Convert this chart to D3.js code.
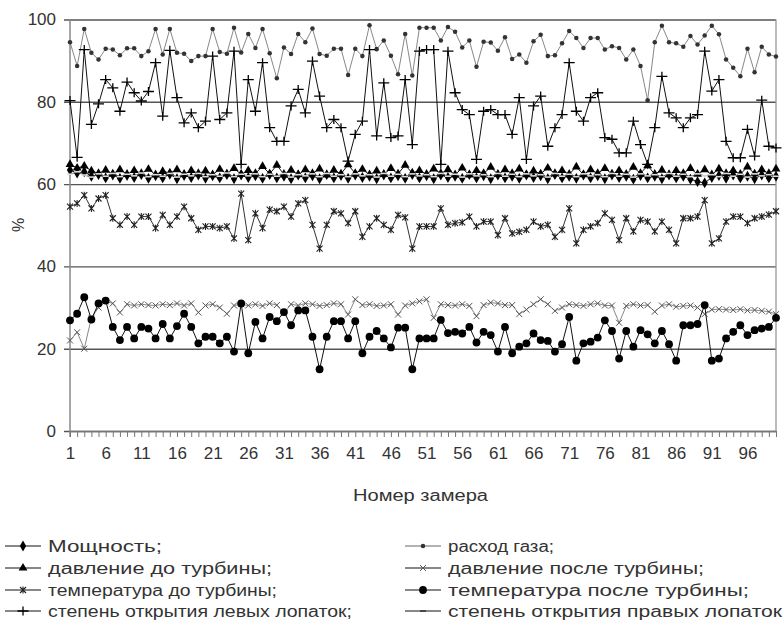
<!DOCTYPE html>
<html lang="ru">
<head>
<meta charset="UTF-8">
<title>Параметры турбины по номеру замера</title>
<script src="https://d3js.org/d3.v7.min.js"></script>
<style>
  body { margin: 0; background: #fff; }
  svg text { font-family: Arial, "Liberation Sans", sans-serif; fill: #333; }
</style>
</head>
<body>
<div id="chart"></div>
<script>
// measurement numbers 1..100
const measures = d3.range(1, 101);
const xTickLabels = d3.range(1, 101, 5);
const yTicks = [0, 20, 40, 60, 80, 100];

// values, %
const gasFlow = [94.5, 88.7, 97.7, 91.9, 90.3, 92.9, 92.7, 91.3, 93, 93,
  91.1, 92.3, 97.7, 91.5, 97.7, 91.9, 91.7, 89.9, 91.1, 91.1,
  97.7, 92.1, 91.7, 98, 92, 96.5, 93.1, 97.7, 91.8, 85.7,
  93.2, 91.6, 96.5, 94.5, 97.8, 91.6, 91.2, 92.9, 92.9, 86.5,
  92.9, 91.1, 98.6, 92.8, 94.9, 91.2, 86.7, 96.5, 86.4, 98,
  98, 98, 94.9, 98.2, 97, 93.2, 94.9, 88.5, 94.6, 94.4,
  92.4, 95.7, 90.4, 91.5, 89.5, 94.7, 96.3, 91.1, 91.3, 94.2,
  97.2, 95.5, 93.1, 95.5, 95.5, 92.7, 93.5, 93.1, 90.3, 92.7,
  88.7, 80.4, 94.5, 98.5, 94.5, 94.2, 93.4, 96, 93.9, 96.1,
  98.5, 96.4, 90.3, 88.3, 86.2, 92.9, 87.2, 93.4, 91.5, 91];

const leftBlades = [80.3, 66.5, 92.7, 74.5, 79.5, 85.4, 83.4, 77.7, 84.8, 82.2,
  80.2, 82.5, 89.5, 76.5, 92.5, 81, 74.9, 77.3, 73.7, 75.3,
  91.1, 75.7, 77.3, 92.3, 64.8, 85.4, 77.7, 89.5, 73.7, 70.4,
  70.4, 79, 83, 77.3, 89.9, 81.4, 73.7, 75.7, 73.7, 65.6,
  72.1, 75.3, 92.7, 71.7, 84.6, 71.3, 71.7, 85.4, 69.6, 92.3,
  92.7, 92.7, 64.8, 92.3, 82.2, 78.1, 76.9, 66, 77.7, 78.1,
  76.9, 76.9, 72.1, 81, 66, 79, 81.4, 69.2, 73.7, 76.9,
  89.5, 77.7, 75.3, 81, 82.2, 71.3, 70.9, 67.6, 67.6, 75.3,
  69.6, 64.8, 73.7, 86.2, 77.3, 76.1, 73.7, 76.1, 76.9, 92.3,
  82.6, 85.4, 70.4, 66.4, 66.4, 73.3, 66.8, 80.4, 69.2, 68.8];

const pressureBefore = [64.8, 63.9, 64.4, 63.2, 62.6, 63.4, 62.5, 63.5, 62.4, 63.3,
  62.6, 63.6, 62.3, 63.1, 62.7, 63.5, 62.4, 63.3, 62.6, 63.2,
  62.3, 63.6, 62.5, 63.8, 62.4, 63.3, 62.6, 64.3, 62.5, 64.6,
  62.4, 63.4, 62.3, 63.5, 62.6, 63.7, 62.2, 63.4, 62.5, 64.7,
  62.6, 63.6, 62.3, 63.2, 62.4, 63.8, 62.5, 64.6, 62.7, 63.3,
  62.4, 63.7, 62.6, 63.5, 62.3, 63.9, 62.2, 63.3, 62.6, 64.1,
  62.4, 63.5, 62.6, 63.7, 62.3, 63.2, 62.5, 63.9, 62.6, 63.3,
  62.4, 64.2, 62.3, 63.5, 62.6, 63.8, 62.5, 63.3, 62.4, 64.1,
  62.6, 64.5, 62.4, 63.4, 62.3, 63.3, 62.6, 63.8, 62.4, 63.5,
  62.3, 63.7, 62.6, 63.3, 62.4, 64.2, 62.5, 63.5, 62.6, 63.7];

const power = [63.4, 62.7, 63, 61.9, 62.3, 61.5, 62.2, 61.4, 62.1, 61.6,
  62.3, 61.4, 62, 61.5, 62.4, 61.3, 62.1, 61.6, 62.2, 61.4,
  62, 61.5, 62.3, 61.3, 62.2, 61.6, 62, 61.4, 62.3, 61.5,
  61.9, 61.3, 62.2, 61.5, 62, 61.3, 62.3, 61.5, 62.1, 61.4,
  62.2, 61.6, 61.9, 61.3, 62.2, 61.5, 62, 61.4, 62.3, 61.5,
  62, 61.3, 62.2, 61.6, 61.9, 61.4, 62.3, 61.5, 62, 61.3,
  62.2, 61.5, 61.9, 61.4, 62.2, 61.6, 62, 61.3, 62.3, 61.5,
  61.9, 61.4, 62.2, 61.5, 62, 61.3, 62.2, 61.6, 61.9, 61.2,
  62.1, 61.5, 61.9, 61.3, 62.2, 61.5, 61.9, 61.2, 60.6, 60.3,
  61.6, 62.1, 61.4, 62.2, 61.5, 61.9, 61.3, 62.2, 61.5, 61.9];

const rightBlades = [62.4, 63, 62.2, 61.7, 62.5, 61.9, 62.6, 61.8, 62.4, 62,
  62.7, 61.8, 62.3, 61.9, 62.6, 61.7, 62.4, 62, 62.6, 61.8,
  62.3, 61.9, 62.7, 61.8, 62.4, 62, 62.5, 61.8, 62.4, 61.9,
  62.6, 61.7, 62.3, 62, 62.5, 61.8, 62.6, 61.9, 62.3, 61.8,
  62.5, 62, 62.3, 61.7, 62.6, 61.9, 62.4, 61.8, 62.5, 62,
  62.3, 61.8, 62.6, 61.9, 62.4, 61.7, 62.5, 62, 62.3, 61.8,
  62.6, 61.9, 62.4, 61.8, 62.5, 62, 62.3, 61.7, 62.6, 61.9,
  62.4, 61.8, 62.5, 62, 62.3, 61.8, 62.6, 61.9, 62.4, 61.7,
  62.5, 62, 62.3, 61.8, 62.6, 61.9, 62.4, 61.8, 62.5, 62,
  62.3, 61.8, 62.6, 61.9, 62.4, 61.7, 62.5, 62, 62.3, 61.9];

const tempBefore = [54.5, 55.3, 57.3, 54.1, 56.5, 57.3, 51.7, 50.1, 52.1, 50.1,
  52.1, 52.1, 49.3, 52.5, 50.1, 52.1, 54.5, 51.7, 48.9, 49.7,
  49.7, 49.3, 49.7, 46.8, 57.7, 46.4, 52.9, 49.3, 53.8, 53.4,
  54.5, 52.1, 55.3, 56.1, 50.1, 44.3, 50.1, 53.4, 52.9, 50.5,
  53.4, 47.2, 49.7, 51.7, 50.1, 48.9, 52.5, 51.9, 44.3, 49.7,
  49.7, 49.7, 54.1, 50.1, 50.5, 50.7, 52.1, 49.7, 50.9, 50.9,
  47.6, 51.7, 48, 48.4, 48.9, 50.9, 49.7, 50.1, 47.2, 48.9,
  54.1, 45.6, 48.9, 49.7, 50.5, 52.9, 51.3, 46.4, 51.7, 48.5,
  51.3, 50.9, 48.5, 50.9, 48.9, 45.6, 51.7, 51.7, 52.1, 56.1,
  45.6, 46.8, 50.9, 52.1, 52.1, 50.5, 51.7, 52.1, 52.6, 53.4];

const pressureAfter = [22, 24, 20, 27.5, 30, 31.5, 31, 28.8, 30.8, 30.5,
  30.8, 30.6, 30.5, 30.8, 30.6, 31, 30.5, 31, 28.8, 30.5,
  30.8, 30, 28.5, 30.5, 30.8, 30.5, 30.8, 30.4, 31, 30.6,
  28.6, 30.8, 30.5, 31, 30.8, 30.4, 30.6, 31, 30.8, 28.3,
  32, 30.6, 30.8, 30.4, 30.5, 30.8, 28.3, 30.5, 31, 31.5,
  32, 27.5, 30.8, 30.6, 30.5, 30.8, 30.4, 27.9, 30.6, 31.2,
  31, 30.6, 30.6, 28.4, 29.5, 30.8, 32, 30.8, 29.2, 30,
  30.8, 30.6, 30.4, 30.8, 31, 30.5, 30.5, 26.3, 30.4, 30.8,
  30.5, 30.6, 29, 30.5, 30.8, 30.2, 30.4, 30.5, 30, 28.4,
  29.5, 29.6, 29.5, 29.4, 29.6, 29.3, 29.4, 29.2, 29, 28.4];

const tempAfter = [26.9, 28.5, 32.5, 27.1, 31, 31.7, 25.3, 22.1, 25.3, 22.5,
  25.3, 24.9, 22.5, 26, 22.5, 25.5, 28.5, 25.3, 21.3, 22.9,
  22.9, 21.3, 22.9, 19.3, 31, 18.9, 26.5, 22.5, 27.7, 26.7,
  28.9, 25.7, 29.3, 29.3, 22.9, 15, 22.9, 26.7, 26.7, 22.5,
  26.7, 18.9, 22.9, 24.3, 22.5, 20.3, 25.1, 25.1, 15, 22.5,
  22.5, 22.5, 27, 23.8, 24.1, 23.7, 25.3, 21.5, 24.1, 23.3,
  19.3, 25.3, 18.9, 20.5, 21.3, 23.7, 22.1, 21.9, 19.3, 21.1,
  27.7, 17.1, 21.3, 21.7, 22.7, 26.9, 24.3, 17.6, 24.3, 20.5,
  24.5, 23.5, 21.3, 24.3, 21.1, 17.1, 25.7, 25.7, 26, 30.6,
  17.1, 17.6, 22.5, 24.1, 25.7, 23.3, 24.5, 24.9, 25.3, 27.5];

// series in legend order (left column then right column, row by row)
const seriesNames = ["Мощность;", "расход газа;", "давление до турбины;", "давление после турбины;",
  "температура до турбины;", "температура после турбины;",
  "степень открытия левых лопаток;", "степень открытия правых лопаток"];
const series = [
  {values: power, marker: "diamond", line: "#111", mark: "#000"},
  {values: gasFlow, marker: "dot", line: "#888", mark: "#333"},
  {values: pressureBefore, marker: "triangle", line: "#111", mark: "#000"},
  {values: pressureAfter, marker: "cross", line: "#888", mark: "#555"},
  {values: tempBefore, marker: "star", line: "#333", mark: "#222"},
  {values: tempAfter, marker: "circle", line: "#111", mark: "#000"},
  {values: leftBlades, marker: "plus", line: "#111", mark: "#000"},
  {values: rightBlades, marker: "dash", line: "#555", mark: "#ddd"}
].map((s, i) => ({...s, name: seriesNames[i]}));
// legend text widths as they appear in the original (its text is drawn wide)
const legendWidths = [114, 106, 224, 256, 229, 301, 304, 334];
// drawing order so the bunch near 62 and the lower lines overlap like the original
const drawOrder = [1, 6, 4, 3, 5, 0, 2, 7];

const W = 784, H = 624;
const plot = {left: 70, right: 776, top: 19.5, bottom: 431};

const svg = d3.select("#chart").append("svg")
  .attr("width", W).attr("height", H);

const x = d3.scalePoint().domain(measures).range([plot.left, plot.right]);
const y = d3.scaleLinear().domain([0, 100]).range([plot.bottom, plot.top]);

// gridlines (ticks outside on the left)
svg.append("g")
  .attr("transform", `translate(${plot.left},0)`)
  .call(d3.axisLeft(y).tickValues(yTicks).tickSize(-(plot.right - plot.left)).tickSizeOuter(0).tickPadding(14))
  .call(g => g.select(".domain").remove())
  .call(g => g.selectAll(".tick line")
    .attr("x1", -6)
    .attr("stroke", "#555").attr("stroke-width", 1.4))
  .call(g => g.selectAll(".tick text")
    .attr("font-size", 17).attr("fill", "#444"));

// right border
svg.append("line")
  .attr("x1", plot.right).attr("x2", plot.right)
  .attr("y1", plot.top).attr("y2", plot.bottom)
  .attr("stroke", "#999").attr("stroke-width", 1.3);

// y axis line
svg.append("line")
  .attr("x1", plot.left).attr("x2", plot.left)
  .attr("y1", plot.top).attr("y2", plot.bottom + 6)
  .attr("stroke", "#888").attr("stroke-width", 1.5);

// x axis
const xAxis = svg.append("g")
  .attr("transform", `translate(0,${plot.bottom})`)
  .call(d3.axisBottom(x).tickSize(6).tickSizeOuter(0).tickPadding(10)
    .tickFormat(d => xTickLabels.includes(d) ? d : ""));
xAxis.select(".domain").attr("stroke", "#777").attr("stroke-width", 1.3);
xAxis.selectAll(".tick line").attr("stroke", "#777");
xAxis.selectAll(".tick text").attr("font-size", 17).attr("fill", "#444");

// axis titles
svg.append("text")
  .attr("x", 353).attr("y", 501)
  .attr("font-size", 16)
  .attr("textLength", 135).attr("lengthAdjust", "spacingAndGlyphs")
  .text("Номер замера");

svg.append("text")
  .attr("transform", "translate(24,225) rotate(-90)")
  .attr("text-anchor", "middle").attr("font-size", 16)
  .text("%");

// marker drawing
const sym = {
  diamond: d3.symbol().type(d3.symbolDiamond).size(34),
  triangle: d3.symbol().type(d3.symbolTriangle).size(34),
  circle: d3.symbol().type(d3.symbolCircle).size(48),
  dot: d3.symbol().type(d3.symbolCircle).size(16)
};

function drawMarker(g, type, cx, cy, s) {
  if (sym[type]) {
    g.append("path")
      .attr("d", sym[type]())
      .attr("transform", `translate(${cx},${cy})`)
      .attr("fill", s.mark);
  } else if (type === "plus") {
    g.append("path")
      .attr("d", `M${cx - 5.5},${cy}H${cx + 5.5}M${cx},${cy - 4.5}V${cy + 4.5}`)
      .attr("stroke", s.mark).attr("stroke-width", 1.3).attr("fill", "none");
  } else if (type === "cross") {
    g.append("path")
      .attr("d", `M${cx - 3},${cy - 3}L${cx + 3},${cy + 3}M${cx - 3},${cy + 3}L${cx + 3},${cy - 3}`)
      .attr("stroke", s.mark).attr("stroke-width", 1).attr("fill", "none");
  } else if (type === "star") {
    g.append("path")
      .attr("d", `M${cx - 3},${cy - 3}L${cx + 3},${cy + 3}M${cx - 3},${cy + 3}L${cx + 3},${cy - 3}M${cx},${cy - 3.5}V${cy + 3.5}`)
      .attr("stroke", s.mark).attr("stroke-width", 1.1).attr("fill", "none");
  } else if (type === "dash") {
    g.append("path")
      .attr("d", `M${cx - 3},${cy}H${cx + 3}`)
      .attr("stroke", s.mark).attr("stroke-width", 1.5).attr("fill", "none");
  }
}

const line = d3.line()
  .x((d, i) => x(measures[i]))
  .y(d => y(d));

drawOrder.forEach(k => {
  const s = series[k];
  const g = svg.append("g").attr("class", "series");
  g.append("path")
    .datum(s.values)
    .attr("d", line)
    .attr("fill", "none")
    .attr("stroke", s.line)
    .attr("stroke-width", 1);
  s.values.forEach((v, i) => drawMarker(g, s.marker, x(measures[i]), y(v), s));
});

// legend: two columns, four rows
const legend = svg.append("g").attr("class", "legend");
const legendCols = [5, 405];
const legendRows = [546, 568, 590, 611];
series.forEach((s, i) => {
  const lx = legendCols[i % 2];
  const ly = legendRows[Math.floor(i / 2)];
  const g = legend.append("g");
  g.append("line")
    .attr("x1", lx).attr("x2", lx + 36)
    .attr("y1", ly).attr("y2", ly)
    .attr("stroke", s.marker === "dot" ? "#666" : "#111").attr("stroke-width", 1);
  drawMarker(g, s.marker, lx + 18, ly, s.marker === "dash" ? {mark: "#333"} : s);
  g.append("text")
    .attr("x", lx + 43).attr("y", ly)
    .attr("dy", "0.35em")
    .attr("font-size", 16)
    .attr("textLength", legendWidths[i]).attr("lengthAdjust", "spacingAndGlyphs")
    .text(s.name);
});
</script>
</body>
</html>
